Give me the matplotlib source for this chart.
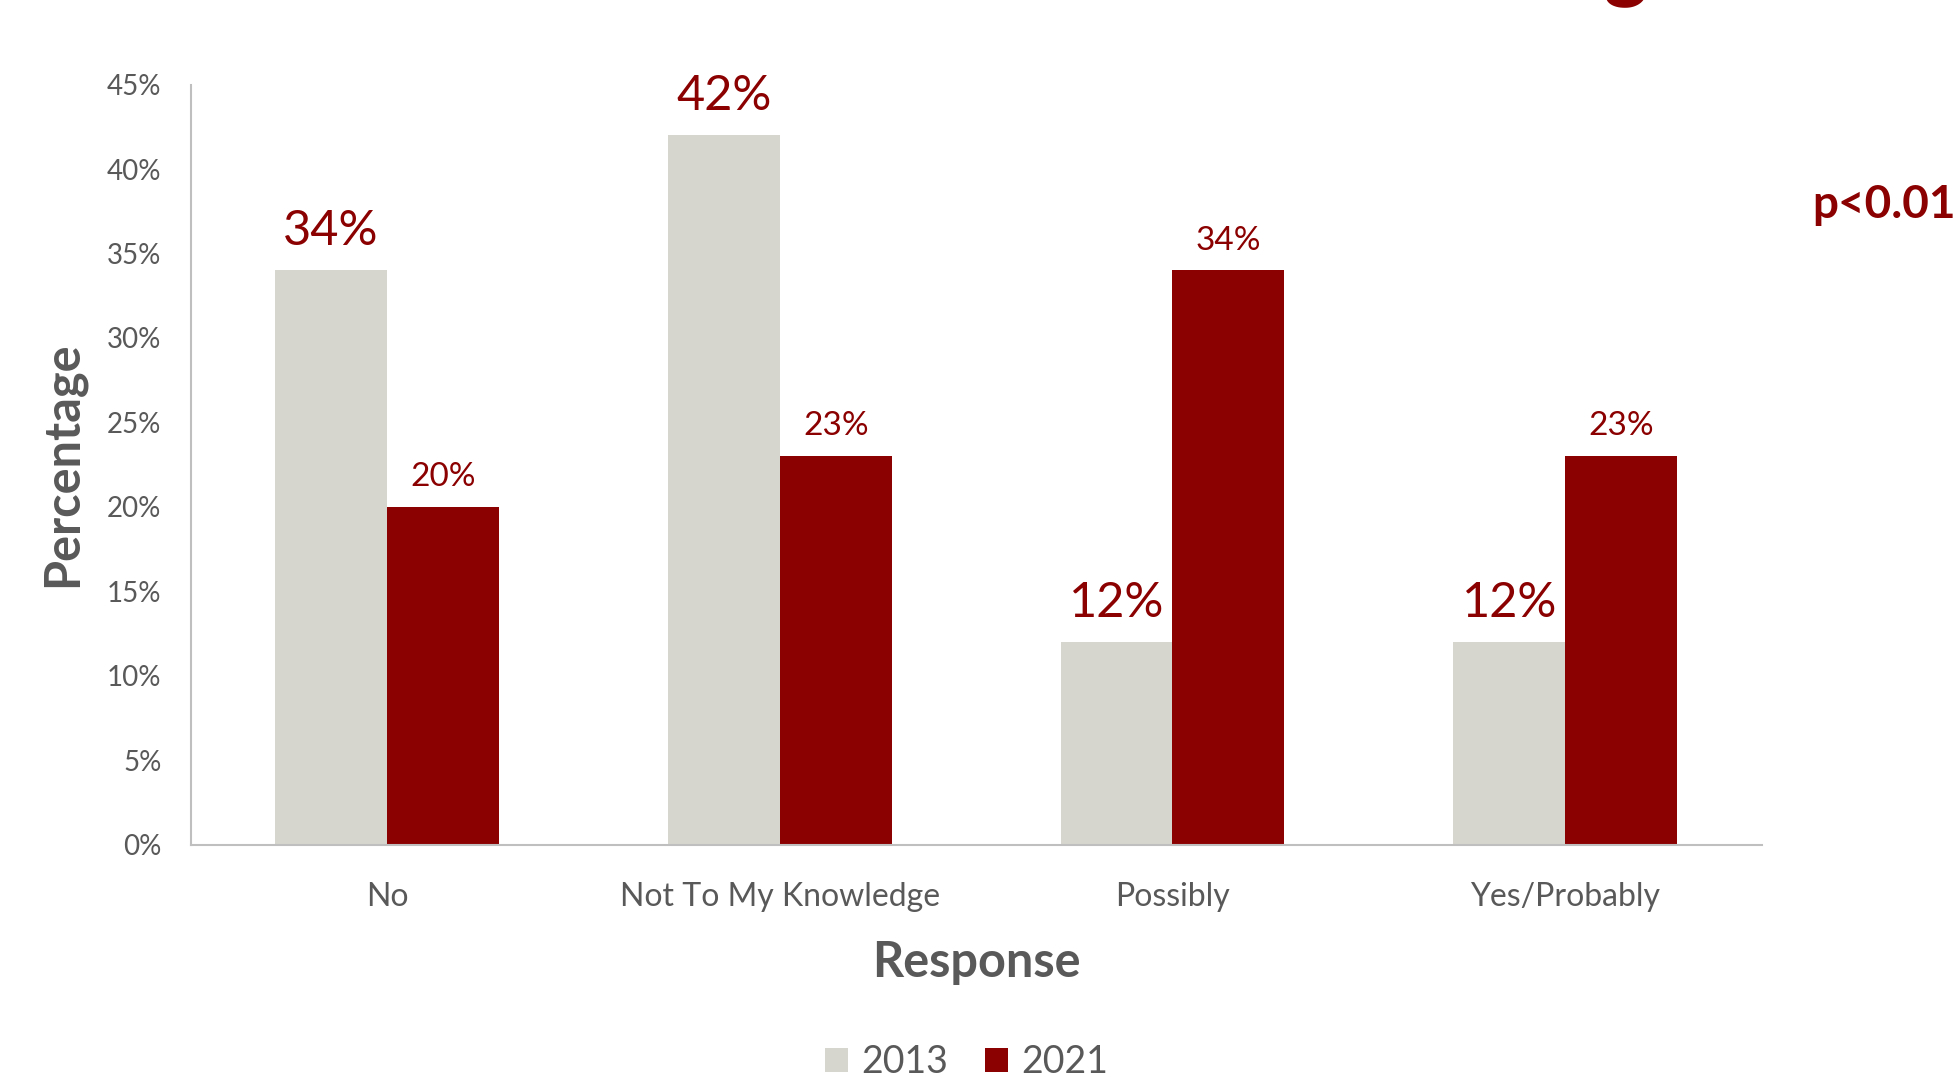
import matplotlib.pyplot as plt
import numpy as np

plt.rcParams['font.family'] = ['Lato', 'DejaVu Sans']

categories = ['No', 'Not To My Knowledge', 'Possibly', 'Yes/Probably']
years = ['2013', '2021']
vals_2013 = [34, 42, 12, 12]
vals_2021 = [20, 23, 34, 23]
yticks = [0, 5, 10, 15, 20, 25, 30, 35, 40, 45]

GRAY_BAR = '#D6D6CE'
RED = '#8B0000'
TXT = '#595959'
SPINE = '#BFBFBF'

fig = plt.figure(figsize=(19.53, 10.78), dpi=100)
ax = fig.add_axes([0.0976, 0.2166, 0.8044, 0.7048])

x = np.arange(len(categories))
w = 0.285
b1 = ax.bar(x - w / 2, vals_2013, w, color=GRAY_BAR, label=years[0])
b2 = ax.bar(x + w / 2, vals_2021, w, color=RED, label=years[1])

# data labels: 2013 in big type, 2021 smaller
for rect, v in zip(b1, vals_2013):
    ax.annotate(f'{v}%', (rect.get_x() + rect.get_width() / 2, v),
                xytext=(0, 18), textcoords='offset points',
                ha='center', va='baseline', fontsize=35, color=RED)
for rect, v in zip(b2, vals_2021):
    ax.annotate(f'{v}%', (rect.get_x() + rect.get_width() / 2, v),
                xytext=(0, 15), textcoords='offset points',
                ha='center', va='baseline', fontsize=24, color=RED)

ax.set_xlim(-0.5, len(categories) - 0.5)
ax.set_ylim(0, 45)
ax.set_yticks(yticks)
ax.set_yticklabels([f'{t}%' for t in yticks])
ax.set_xticks(x)
ax.set_xticklabels(categories)
ax.tick_params(axis='y', length=0, pad=21, labelsize=20, labelcolor=TXT)
ax.tick_params(axis='x', length=0, pad=27, labelsize=23, labelcolor=TXT)

for s in ['top', 'right']:
    ax.spines[s].set_visible(False)
for s in ['left', 'bottom']:
    ax.spines[s].set_color(SPINE)
    ax.spines[s].set_linewidth(1.5)

ax.set_ylabel('Percentage', fontsize=35, fontweight='bold', color=TXT, labelpad=16)
ax.set_xlabel('Response', fontsize=35, fontweight='bold', color=TXT, labelpad=20)

ax.legend(loc='center', bbox_to_anchor=(0.495, 0.015), bbox_transform=fig.transFigure,
          ncol=2, frameon=False, fontsize=27, labelcolor=TXT,
          handlelength=0.6, handleheight=0.6, handletextpad=0.35, columnspacing=1.0)

# significance note, runs off the right edge like the source slide
fig.text(0.928, 0.798, 'p<0.01', fontsize=33, fontweight='bold', color=RED,
         ha='left', va='baseline')
# cropped title above the chart, only the descender of its last letter shows
fig.text(0.8326, 1.0074, 'g', fontsize=60, fontweight='bold', color=RED,
         ha='center', va='baseline')

fig.savefig('out.png', dpi=100)
